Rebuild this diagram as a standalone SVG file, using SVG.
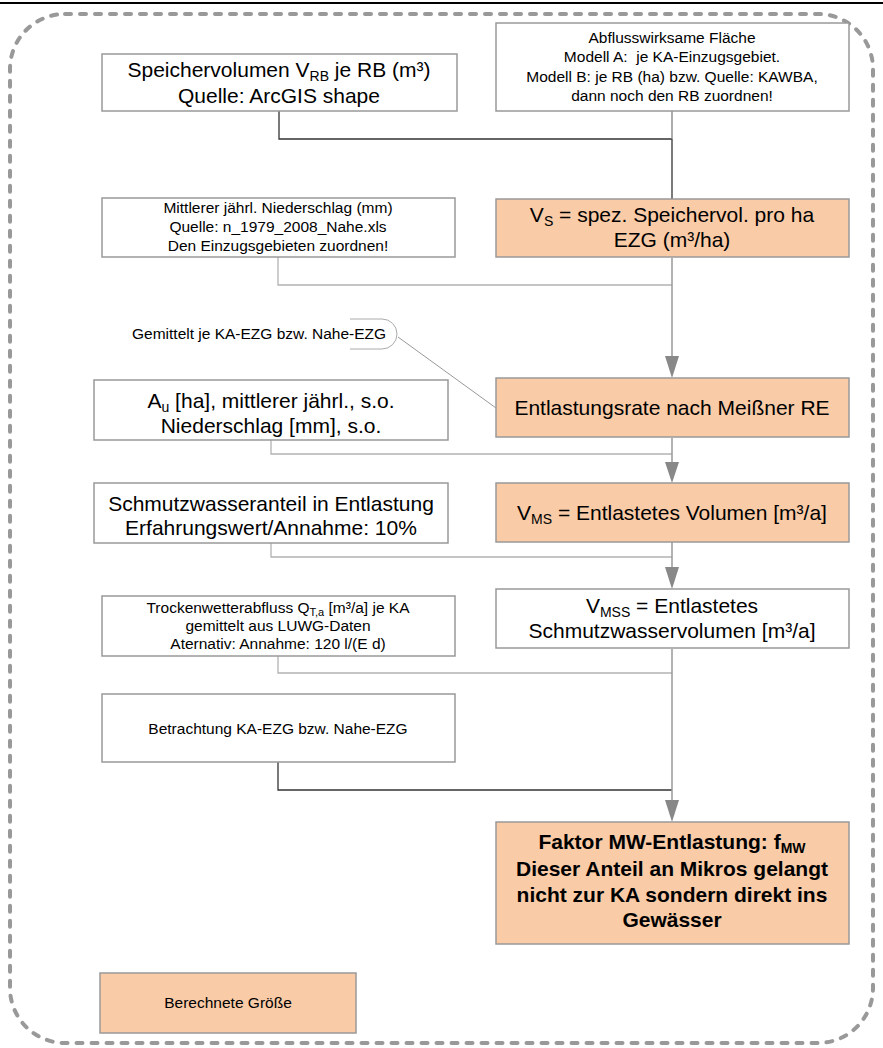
<svg xmlns="http://www.w3.org/2000/svg" width="883" height="1048" viewBox="0 0 883 1048">
<style>
text{font-family:"Liberation Sans",Arial,sans-serif;fill:#000;text-anchor:middle}
.big{font-size:21px}
.sm{font-size:15.5px}
.bold{font-weight:bold}
.box{fill:#fff;stroke:#999;stroke-width:1.5}
.calc{fill:#F9CBA7;stroke:#999;stroke-width:1.5}
.dark{fill:none;stroke:#333;stroke-width:1.3}
.mid{fill:none;stroke:#808080;stroke-width:1.3}
.light{fill:none;stroke:#b3b3b3;stroke-width:1.3}
.arrow{fill:none;stroke:#999;stroke-width:1.5}
</style>
<defs>
<marker id="ah" markerUnits="userSpaceOnUse" markerWidth="16" markerHeight="24" viewBox="0 0 16 24" refX="8" refY="22" orient="auto-start-reverse">
<path d="M1,0 L15,0 L8,22 Z" fill="#888" transform="rotate(0)"/>
</marker>
</defs>
<line x1="0" y1="3" x2="883" y2="3" stroke="#000" stroke-width="2"/>
<rect x="10" y="14" width="863" height="1029" rx="55" ry="55" fill="none" stroke="#999" stroke-width="4" stroke-dasharray="6 9" stroke-linecap="round"/>

<g id="connectors">
<polyline class="dark" points="279,111 279,139 672,139"/>
<line class="mid" x1="672" y1="111" x2="672" y2="139"/>
<line class="dark" x1="672" y1="139" x2="672" y2="199"/>
<polyline class="light" points="278,257 278,285 672,285"/>
<line x1="398" y1="337" x2="496" y2="408" stroke="#999" stroke-width="1"/>
<polyline class="light" points="271,440 271,454 672,454"/>
<polyline class="light" points="271,543 271,557 672,557"/>
<polyline class="light" points="278,656 278,673 672,673"/>
<polyline class="dark" points="278,762 278,790 672,790"/>
<path d="M672,258 V356" class="arrow"/>
<polygon points="665,356 679,356 672,378" fill="#888"/>
<path d="M672,438 V462" class="arrow"/>
<polygon points="665,462 679,462 672,483" fill="#888"/>
<path d="M672,542 V567" class="arrow"/>
<polygon points="665,567 679,567 672,589" fill="#888"/>
<path d="M672,649 V800" class="arrow"/>
<polygon points="665,800 679,800 672,822" fill="#888"/>
</g>

<g id="speichervolumen">
<rect class="box" x="102" y="54" width="355" height="57"/>
<text class="big" x="279" y="77">Speichervolumen V<tspan font-size="14" dy="4">RB</tspan><tspan dy="-4"> je RB (m³)</tspan></text>
<text class="big" x="279" y="103">Quelle: ArcGIS shape</text>
</g>

<g id="abflusswirksame">
<rect class="box" x="496" y="23" width="353" height="88"/>
<text class="sm" x="672" y="43">Abflusswirksame Fläche</text>
<text class="sm" x="672" y="62">Modell A: &#160;je KA-Einzugsgebiet.</text>
<text class="sm" x="672" y="82">Modell B: je RB (ha) bzw. Quelle: KAWBA,</text>
<text class="sm" x="672" y="101">dann noch den RB zuordnen!</text>
</g>

<g id="vs">
<rect class="calc" x="496" y="199" width="353" height="58"/>
<text class="big" x="672" y="222">V<tspan font-size="14" dy="4">S</tspan><tspan dy="-4"> = spez. Speichervol. pro ha</tspan></text>
<text class="big" x="672" y="247">EZG (m³/ha)</text>
</g>

<g id="niederschlag">
<rect class="box" x="102" y="198" width="353" height="59"/>
<text class="sm" x="278" y="213">Mittlerer jährl. Niederschlag (mm)</text>
<text class="sm" x="278" y="232">Quelle: n_1979_2008_Nahe.xls</text>
<text class="sm" x="278" y="251">Den Einzugsgebieten zuordnen!</text>
</g>

<g id="gemittelt">
<path d="M350,319 H382 A15,15 0 0 1 382,349 H350" fill="none" stroke="#aaa" stroke-width="1"/>
<text class="sm" x="132" y="339" style="text-anchor:start">Gemittelt je KA-EZG bzw. Nahe-EZG</text>
</g>

<g id="entlastungsrate">
<rect class="calc" x="496" y="378" width="353" height="59"/>
<text class="big" x="672" y="415">Entlastungsrate nach Meißner RE</text>
</g>

<g id="au">
<rect class="box" x="94" y="380" width="354" height="60"/>
<text class="big" x="271" y="408">A<tspan font-size="14" dy="4">u</tspan><tspan dy="-4"> [ha], mittlerer jährl., s.o.</tspan></text>
<text class="big" x="271" y="433">Niederschlag [mm], s.o.</text>
</g>

<g id="schmutzwasseranteil">
<rect class="box" x="94" y="483" width="354" height="60"/>
<text class="big" x="271" y="511">Schmutzwasseranteil in Entlastung</text>
<text class="big" x="271" y="535">Erfahrungswert/Annahme: 10%</text>
</g>

<g id="vms">
<rect class="calc" x="496" y="483" width="353" height="59"/>
<text class="big" x="672" y="520">V<tspan font-size="14" dy="4">MS</tspan><tspan dy="-4"> = Entlastetes Volumen [m³/a]</tspan></text>
</g>

<g id="vmss">
<rect class="box" x="496" y="589" width="353" height="59"/>
<text class="big" x="672" y="613">V<tspan font-size="14" dy="4">MSS</tspan><tspan dy="-4"> = Entlastetes</tspan></text>
<text class="big" x="672" y="638">Schmutzwasservolumen [m³/a]</text>
</g>

<g id="trockenwetter">
<rect class="box" x="102" y="596" width="353" height="60"/>
<text class="sm" x="278" y="613">Trockenwetterabfluss Q<tspan font-size="11" dy="3">T,a</tspan><tspan dy="-3"> [m³/a] je KA</tspan></text>
<text class="sm" x="278" y="631">gemittelt aus LUWG-Daten</text>
<text class="sm" x="278" y="649">Aternativ: Annahme: 120 l/(E d)</text>
</g>

<g id="betrachtung">
<rect class="box" x="102" y="694" width="353" height="68"/>
<text class="sm" x="278" y="734">Betrachtung KA-EZG bzw. Nahe-EZG</text>
</g>

<g id="faktor">
<rect class="calc" x="496" y="822" width="353" height="122"/>
<text class="big bold" x="672" y="849">Faktor MW-Entlastung: f<tspan font-size="14" dy="4">MW</tspan></text>
<text class="big bold" x="672" y="876">Dieser Anteil an Mikros gelangt</text>
<text class="big bold" x="672" y="902">nicht zur KA sondern direkt ins</text>
<text class="big bold" x="672" y="927">Gewässer</text>
</g>

<g id="legende">
<rect class="calc" x="100" y="973" width="256" height="60"/>
<text class="sm" x="228" y="1008">Berechnete Größe</text>
</g>
</svg>
